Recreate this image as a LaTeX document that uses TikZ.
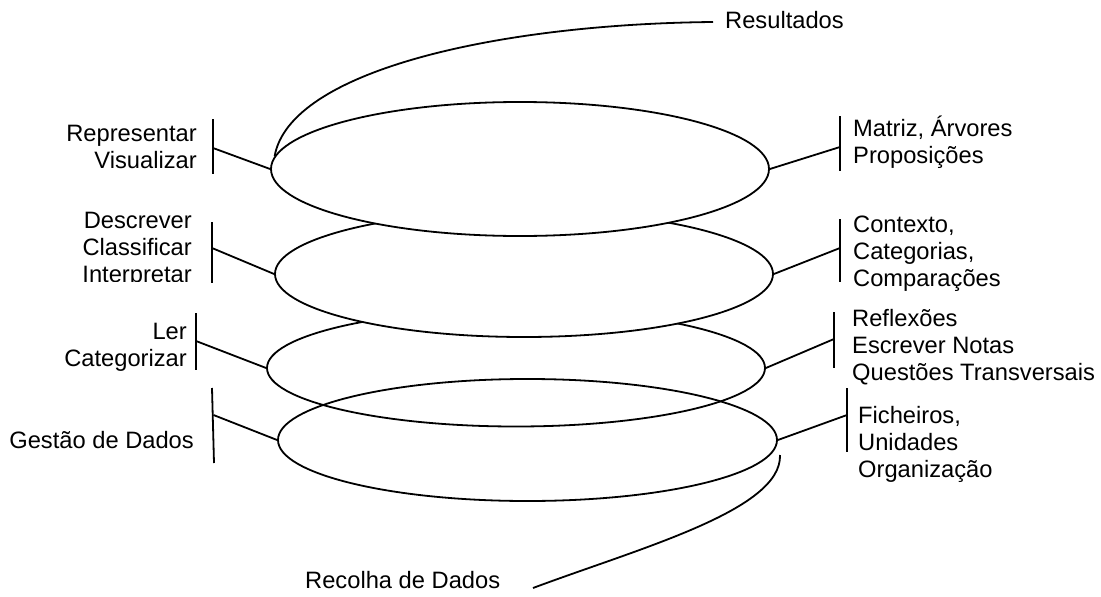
\documentclass[tikz,border=0pt]{standalone}
\usepackage{fontspec}
\setmainfont{Liberation Sans}
\usetikzlibrary{shapes.geometric}
\begin{document}
\begin{tikzpicture}[x=1pt,y=-1pt,
  ln/.style={line width=1.8pt},
  ell/.style={ellipse, draw, line width=1.8pt, inner sep=0pt},
  lbl/.style={font=\fontsize{23.7}{27}\selectfont, inner sep=0pt},
  lft/.style={lbl, align=right, anchor=east},
  rgt/.style={lbl, align=left, anchor=west}]
\useasboundingbox (0,0) rectangle (1101,597);

% layers (lower ones first)
\node[ell, fill=white, minimum width=498pt, minimum height=117pt] (e3) at (516,368) {};
\node[ell, minimum width=499pt, minimum height=122pt] (e4) at (527.5,440) {};
\node[ell, fill=white, minimum width=498pt, minimum height=126pt] (e2) at (524,274) {};
\node[ell, fill=white, minimum width=498pt, minimum height=134pt] (e1) at (520,169) {};

% left labels
\node[lft] (t1) at (197,146.5) {Representar\\Visualizar};
\begin{scope}
\clip (0,200) rectangle (205,281);
\node[lft] (t2) at (192,250) {Descrever\\Classificar\\Interpretar};
\end{scope}
\node[lft] (t3) at (187,347) {Ler\\Categorizar};
\node[lft] (t4) at (194,440) {Gestão de Dados};

% right labels
\node[rgt] (u1) at (853,142.5) {Matriz, Árvores\\Proposições};
\node[rgt] (u2) at (853,254) {Contexto,\\Categorias,\\Comparações};
\node[rgt] (u3) at (852,347) {Reflexões\\Escrever Notas\\Questões Transversais};
\node[rgt] (u4) at (858,444) {Ficheiros,\\Unidades\\Organização};

\node[lbl, anchor=west] (res) at (725,20) {Resultados};
\node[lbl, anchor=west] (rec) at (305,580) {Recolha de Dados};

% bars
\coordinate (b1t) at (213,119); \coordinate (b1b) at (213,174); \coordinate (b1m) at (213,148);
\coordinate (b2t) at (212,222); \coordinate (b2b) at (212,283); \coordinate (b2m) at (212,248);
\coordinate (b3t) at (196,313); \coordinate (b3b) at (196,370); \coordinate (b3m) at (196,341);
\coordinate (b4t) at (212,388); \coordinate (b4b) at (214,463); \coordinate (b4m) at (213.5,415);
\coordinate (c1t) at (840,116); \coordinate (c1b) at (840,171); \coordinate (c1m) at (840,147);
\coordinate (c2t) at (840,219); \coordinate (c2b) at (840,282); \coordinate (c2m) at (840,248);
\coordinate (c3t) at (834,312); \coordinate (c3b) at (834,368); \coordinate (c3m) at (834,339);
\coordinate (c4t) at (847,388); \coordinate (c4b) at (847,452); \coordinate (c4m) at (847,415);

\foreach \b in {b1,b2,b3,b4,c1,c2,c3,c4}
  \draw[ln] (\b t) -- (\b b);

% connectors
\draw[ln] (e1.west) -- (b1m);
\draw[ln] (e2.west) -- (b2m);
\draw[ln] (e3.west) -- (b3m);
\draw[ln] (e4.west) -- (b4m);
\draw[ln] (e1.east) -- (c1m);
\draw[ln] (e2.east) -- (c2m);
\draw[ln] (e3.east) -- (c3m);
\draw[ln] (e4.east) -- (c4m);

% Resultados / Recolha curves
\coordinate (resend) at (713,22);
\draw[ln] (e1.177) .. controls (290,70) and (500,24) .. (resend);
\coordinate (r0) at (780,455);
\coordinate (r1) at (533,588);
\draw[ln] (r0) .. controls (782,510) and (640,548) .. (r1);
\end{tikzpicture}
\end{document}
